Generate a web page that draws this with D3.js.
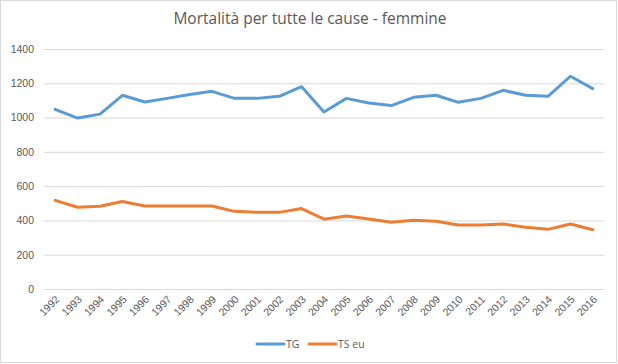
<!DOCTYPE html>
<html><head><meta charset="utf-8">
<script src="https://cdn.jsdelivr.net/npm/d3@7"></script>
<style>body{margin:0;background:#fff}svg{display:block;font-family:"Open Sans",sans-serif}</style>
</head><body>
<script>
const years = ["1992","1993","1994","1995","1996","1997","1998","1999","2000","2001","2002","2003","2004","2005","2006","2007","2008","2009","2010","2011","2012","2013","2014","2015","2016"];
const tg = [1048,997,1020,1130,1091,1112,1135,1153,1112,1112,1124,1180,1033,1112,1085,1070,1118,1130,1089,1112,1159,1130,1124,1241,1169];
const tsEu = [517,477,483,510,484,484,484,484,453,447,447,469,407,426,408,389,401,395,373,373,379,360,348,379,346];
const yTicks = [0,200,400,600,800,1000,1200,1400];
const seriesNames = ["TG","TS eu"];
const colors = ["#5b9bd5","#ed7d31"];

const W=618,H=364;
const svg=d3.select("body").append("svg").attr("width",W).attr("height",H);
svg.append("rect").attr("x",0.5).attr("y",0.5).attr("width",W-2).attr("height",H-2).attr("fill","#fff").attr("stroke","#d9d9d9");

const x=d3.scaleBand().domain(years).range([44,604]);
const y=d3.scaleLinear().domain([0,1400]).range([289,49]);

svg.append("text").attr("x",310).attr("y",24).attr("text-anchor","middle").attr("fill","#595959").attr("font-size",15.5).text("Mortalità per tutte le cause - femmine");

const gy=svg.append("g").attr("transform","translate(44,0)").call(d3.axisLeft(y).tickValues(yTicks).tickFormat(d3.format("d")).tickSize(-560).tickPadding(10));
gy.select(".domain").remove();
gy.selectAll(".tick line").attr("stroke","#d9d9d9");
gy.selectAll(".tick text").attr("fill","#595959").attr("font-size",10.5);

const gx=svg.append("g").attr("transform","translate(0,289)").call(d3.axisBottom(x).tickSize(0).tickPadding(0));
gx.select(".domain").attr("stroke","#d9d9d9");
gx.selectAll(".tick text").attr("fill","#595959").attr("font-size",10.5)
  .attr("text-anchor","end").attr("dy",0).attr("transform","translate(5,11) rotate(-45)");

const line=d3.line().x((d,i)=>x(years[i])+x.bandwidth()/2).y(d=>y(d));
[tg,tsEu].forEach((s,k)=>{
  svg.append("path").datum(s).attr("d",line).attr("fill","none").attr("stroke",colors[k]).attr("stroke-width",3).attr("stroke-linejoin","round").attr("stroke-linecap","round");
});

const legX=[257,309];
seriesNames.forEach((n,k)=>{
  svg.append("line").attr("x1",legX[k]).attr("x2",legX[k]+27).attr("y1",344).attr("y2",344).attr("stroke",colors[k]).attr("stroke-width",3).attr("stroke-linecap","round");
  svg.append("text").attr("x",legX[k]+29).attr("y",348).attr("fill","#595959").attr("font-size",10.5).text(n);
});
</script>
</body></html>
